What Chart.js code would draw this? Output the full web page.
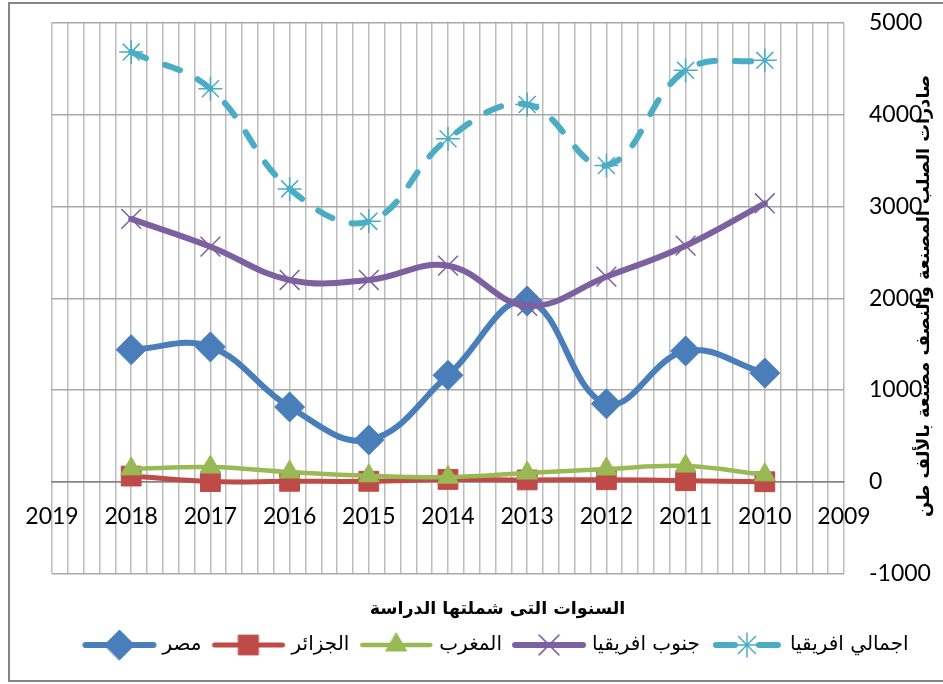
<!DOCTYPE html>
<html>
<head>
<meta charset="utf-8">
<script src="https://cdn.jsdelivr.net/npm/chart.js@4.4.0/dist/chart.umd.min.js"></script>
<style>
  html, body { margin: 0; padding: 0; background: #fff; }
</style>
</head>
<body>
<canvas id="chart" width="943" height="684"></canvas>
<script>
// data
const years = [2018, 2017, 2016, 2015, 2014, 2013, 2012, 2011, 2010];
const egypt = [1440, 1470, 815, 455, 1160, 1970, 850, 1425, 1185];
const algeria = [62, 2, 5, 5, 25, 20, 22, 12, 0];
const morocco = [140, 160, 106, 65, 50, 95, 139, 171, 75];
const southAfrica = [2865, 2562, 2199, 2199, 2355, 1918, 2235, 2573, 3035];
const totalAfrica = [4683, 4284, 3192, 2838, 3738, 4112, 3447, 4484, 4593];
const seriesNames = ['مصر', 'الجزائر', 'المغرب', 'جنوب افريقيا', 'اجمالي افريقيا'];
const xTitle = 'السنوات التى شملتها الدراسة';
const yTitle = 'صادرات الصلب المصنعة والنصف مصنعة بالألف طن';

const latin = 'Lato, "Open Sans", sans-serif';
const arabic = '"DejaVu Sans", sans-serif';

const styles = [
    { color: '#4A7EBB', width: 6, point: 'rectRot', radius: 15 },
    { color: '#BE4B48', width: 5, point: 'rect', radius: 14 },
    { color: '#98B954', width: 4.5, point: 'triangle', radius: 12 },
    { color: '#7D60A0', width: 6, point: 'crossRot', radius: 14, thin: true },
    { color: '#4BACC6', width: 6, point: 'star', radius: 12, thin: true, dash: [16, 20] }
];
const allSeries = [egypt, algeria, morocco, southAfrica, totalAfrica];

// legend sample: line + marker, like excel
function legendSample(s) {
    const c = document.createElement('canvas');
    const w = s.dash ? 70 : 76, h = 34;
    c.width = w; c.height = h;
    const g = c.getContext('2d');
    g.strokeStyle = s.color;
    g.fillStyle = s.color;
    g.lineWidth = s.width;
    g.lineCap = 'round';
    g.beginPath();
    if (s.dash) {
        g.moveTo(4, h / 2); g.lineTo(23, h / 2);
        g.moveTo(w - 23, h / 2); g.lineTo(w - 4, h / 2);
    } else {
        g.moveTo(4, h / 2); g.lineTo(w - 4, h / 2);
    }
    g.stroke();
    g.lineWidth = s.thin ? 1.5 : 1;
    Chart.helpers.drawPoint(g, { pointStyle: s.point, radius: s.radius, rotation: 0, borderWidth: g.lineWidth }, w / 2, h / 2);
    return c;
}
const samples = styles.map(legendSample);

const datasets = allSeries.map((vals, i) => {
    const s = styles[i];
    return {
        label: seriesNames[i],
        data: years.map((yr, j) => ({ x: yr, y: vals[j] })),
        borderColor: s.color,
        backgroundColor: s.color,
        borderWidth: s.width,
        borderDash: s.dash || [],
        borderCapStyle: 'round',
        tension: 0.4,
        pointStyle: s.point,
        pointRadius: s.radius,
        pointHoverRadius: s.radius,
        pointBorderWidth: s.thin ? 1.5 : 1,
        pointBackgroundColor: s.color,
        pointBorderColor: s.color,
        order: allSeries.length - i
    };
});

const chartFrame = {
    id: 'chartFrame',
    beforeDraw(chart) {
        const c = chart.ctx;
        c.save();
        c.fillStyle = '#fff';
        c.fillRect(0, 0, chart.width, chart.height);
        c.strokeStyle = '#868686';
        c.lineWidth = 2;
        c.strokeRect(9, 3, 960, 678);
        c.restore();
    },
    afterDraw(chart) {
        const c = chart.ctx;
        c.save();
        c.translate(924, 296);
        c.rotate(-Math.PI / 2);
        c.font = 'bold 17.7px ' + arabic;
        c.fillStyle = '#000';
        c.textAlign = 'center';
        c.textBaseline = 'middle';
        c.fillText(yTitle, 0, 0);
        c.restore();
    }
};

const ctx = document.getElementById('chart').getContext('2d');
const myChart = new Chart(ctx, {
    type: 'line',
    data: { datasets: datasets },
    options: {
        responsive: false,
        animation: false,
        layout: { padding: { left: 52, top: 23, right: 0, bottom: 19 } },
        scales: {
            x: {
                type: 'linear',
                position: { y: 0 },
                min: 2009,
                max: 2019,
                reverse: true,
                ticks: {
                    count: 51,
                    autoSkip: false,
                    maxRotation: 0,
                    padding: 21,
                    color: '#000',
                    font: { family: latin, size: 23 },
                    callback: v => Math.abs(v - Math.round(v)) < 1e-6 ? String(Math.round(v)) : ''
                },
                grid: { color: '#bcbcbc', lineWidth: 1.5, drawTicks: false },
                border: { display: true, color: '#858585', width: 1.5 },
                afterFit: scale => { scale.height = 0; }
            },
            y: {
                position: 'right',
                min: -1000,
                max: 5000,
                ticks: {
                    stepSize: 1000,
                    padding: 0,
                    color: '#000',
                    font: { family: latin, size: 23 },
                    callback: v => String(v)
                },
                grid: {
                    color: c => c.tick && c.tick.value === 0 ? '#858585' : '#a8a8a8',
                    lineWidth: 1.5,
                    drawTicks: true,
                    tickLength: 25,
                    tickColor: 'rgba(0,0,0,0)'
                },
                border: { display: false },
                afterFit: scale => { scale.width = 99; }
            }
        },
        plugins: {
            tooltip: { enabled: false },
            title: {
                display: true,
                text: xTitle,
                position: 'bottom',
                weight: 500,
                color: '#000',
                font: { family: arabic, size: 17.5, weight: 'bold' },
                padding: { top: 25, bottom: 1.5 }
            },
            legend: {
                position: 'bottom',
                weight: 1000,
                labels: {
                    usePointStyle: true,
                    pointStyleWidth: 66,
                    boxHeight: 20,
                    padding: 14,
                    color: '#000',
                    font: { family: arabic, size: 20 },
                    generateLabels: chart => chart.data.datasets.map((ds, i) => ({
                        text: ds.label,
                        pointStyle: samples[i],
                        fillStyle: ds.borderColor,
                        strokeStyle: ds.borderColor,
                        lineWidth: 0,
                        hidden: false,
                        datasetIndex: i
                    }))
                }
            }
        }
    },
    plugins: [chartFrame]
});
</script>
</body>
</html>
